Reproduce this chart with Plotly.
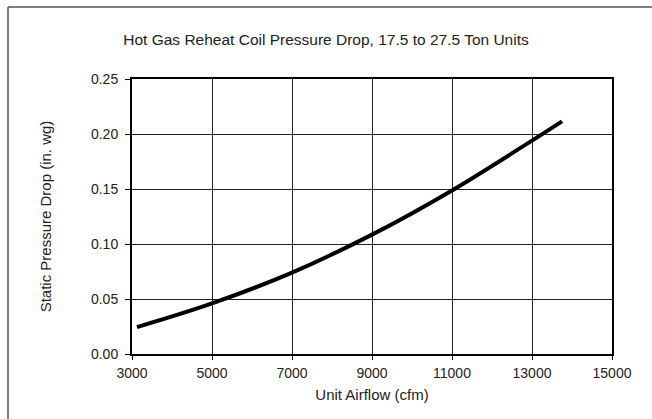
import plotly.graph_objects as go

# Hot gas reheat coil pressure drop curve
airflow_cfm = [3125, 5000, 7000, 9000, 11000, 13000, 13750]
pressure_drop_inwg = [0.0245, 0.046, 0.074, 0.1085, 0.1487, 0.194, 0.2115]

x_ticks = [3000, 5000, 7000, 9000, 11000, 13000, 15000]
y_ticks = [0.00, 0.05, 0.10, 0.15, 0.20, 0.25]

W, H = 652, 419
ML, MR, MT, MB = 132, 40, 79, 65
pw = W - ML - MR
ph = H - MT - MB

font = "Liberation Sans, Arial, sans-serif"
TICK_FS = 14
LABEL_FS = 15
TITLE_FS = 15.5

fig = go.Figure()
fig.add_trace(go.Scatter(
    x=airflow_cfm, y=pressure_drop_inwg, mode="lines",
    line=dict(color="black", width=4, shape="spline"),
    showlegend=False, hoverinfo="skip",
))

axis_common = dict(
    showline=True, linecolor="black", linewidth=2, mirror=True,
    showgrid=True, gridcolor="#222", gridwidth=1,
    ticks="outside", tickcolor="black", tickwidth=1,
    zeroline=False, tickfont=dict(family=font, size=TICK_FS, color="#222"),
)

fig.update_xaxes(
    range=[3000, 15000], tickvals=x_ticks, ticktext=[str(v) for v in x_ticks],
    ticklen=4, ticklabelstandoff=1,
    title=dict(text="Unit Airflow (cfm)", font=dict(family=font, size=LABEL_FS, color="#222"), standoff=10),
    **axis_common,
)
fig.update_yaxes(
    range=[0, 0.25], tickvals=y_ticks, ticktext=[f"{v:.2f}" for v in y_ticks],
    ticklen=5, ticklabelstandoff=4,
    title=dict(text="Static Pressure Drop (in. wg)", font=dict(family=font, size=LABEL_FS, color="#222"), standoff=36),
    **axis_common,
)

# outer frame: left and top edges
def px_x(p):
    return (p - ML) / pw

def px_y(p):
    return (H - MB - p) / ph

fig.add_shape(type="line", xref="paper", yref="paper",
              x0=px_x(8), x1=px_x(8), y0=px_y(7), y1=px_y(H + 5),
              line=dict(color="#555", width=1.5))
fig.add_shape(type="line", xref="paper", yref="paper",
              x0=px_x(8), x1=px_x(W + 5), y0=px_y(7), y1=px_y(7),
              line=dict(color="#555", width=1.5))

fig.update_layout(
    width=W, height=H,
    margin=dict(l=ML, r=MR, t=MT, b=MB),
    paper_bgcolor="white", plot_bgcolor="white",
    title=dict(text="Hot Gas Reheat Coil Pressure Drop, 17.5 to 27.5 Ton Units",
               x=0.5, xref="container", xanchor="center",
               y=1 - 40 / H, yanchor="middle",
               font=dict(family=font, size=TITLE_FS, color="#222")),
)

fig.write_html("out.html")
